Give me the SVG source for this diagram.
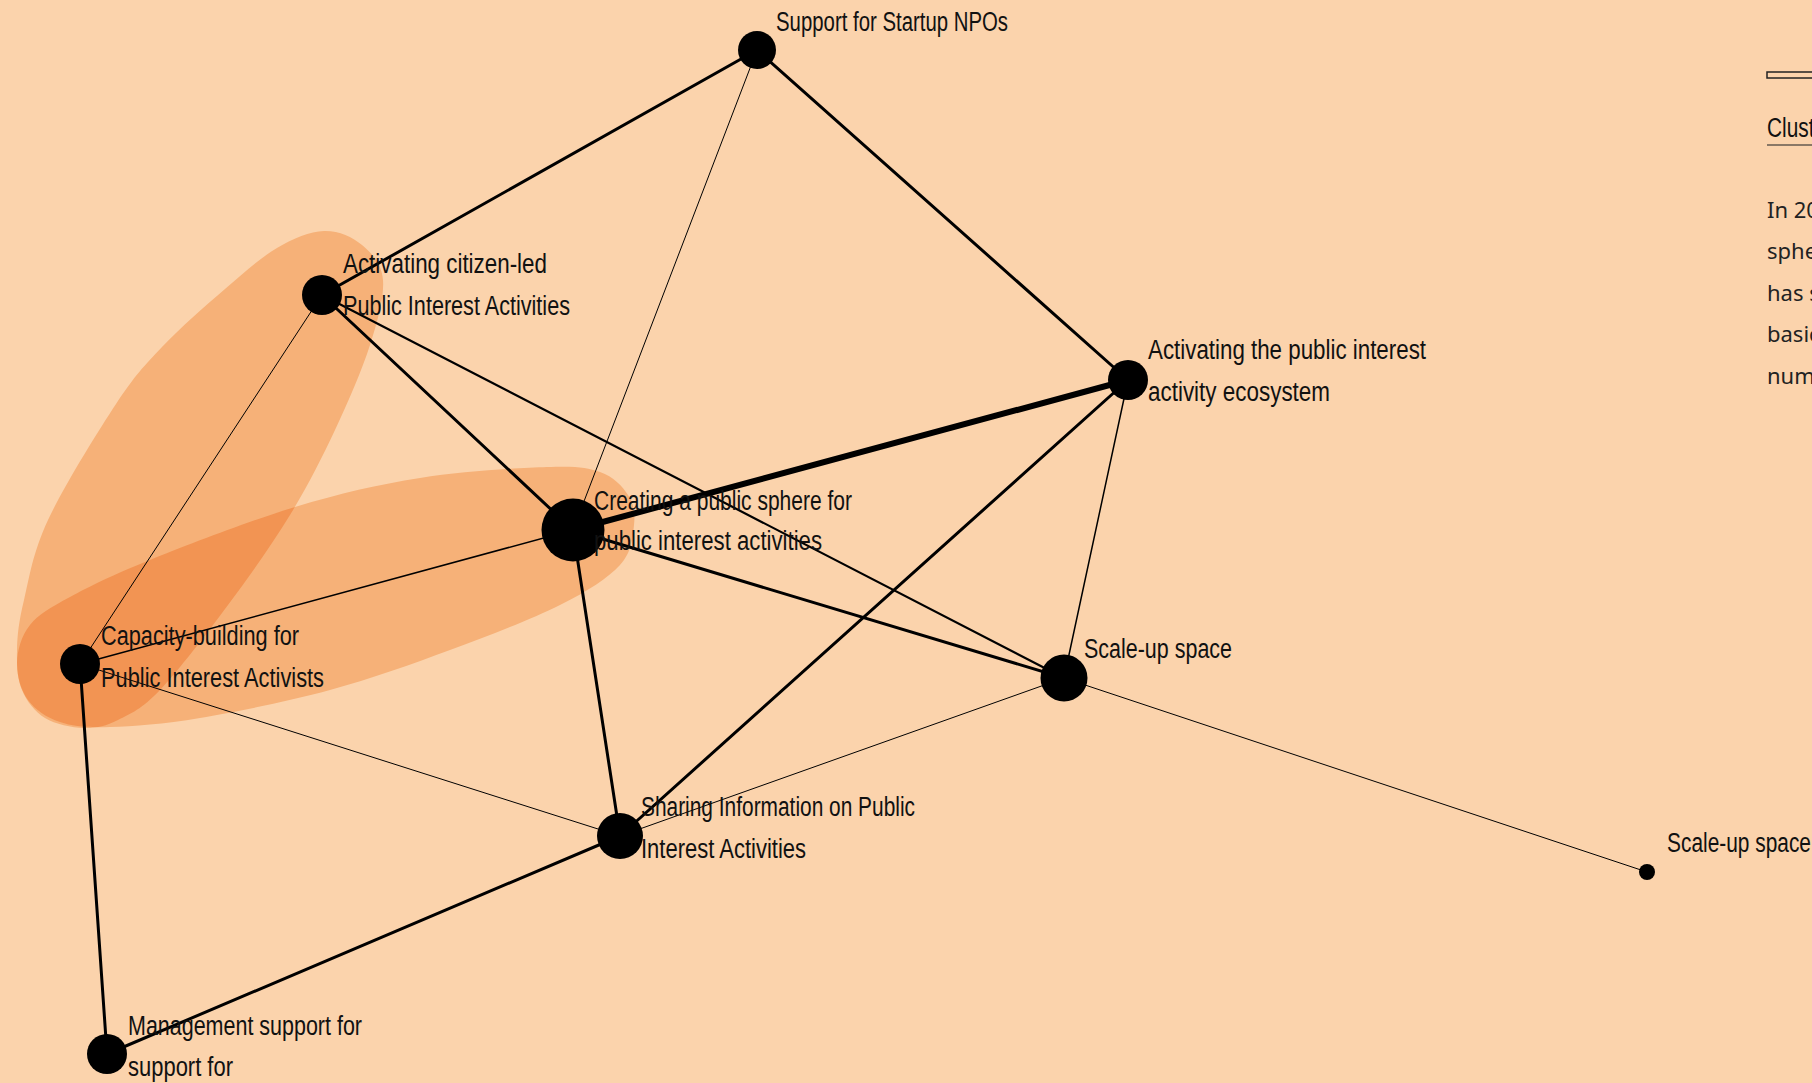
<svg xmlns="http://www.w3.org/2000/svg" width="1812" height="1083" viewBox="0 0 1812 1083">
  <defs>
    <style>
      .bg { fill: #FBD3AC; }
      .hull { fill: #F6B178; }
      .hull-overlap { fill: #F29453; }
      .edge { stroke: #000; fill: none; stroke-linecap: round; }
      .node circle { fill: #000; }
      .label { font-family: "Liberation Sans", "DejaVu Sans", sans-serif; font-size: 27px; fill: #111; }
      .panel-title { font-family: "Liberation Sans", sans-serif; font-size: 27px; fill: #111; }
      .panel-body { font-family: "Noto Sans", "Open Sans", sans-serif; font-size: 22px; fill: #222; }
    </style>
    <!-- cluster outline: citizen-led activities + capacity-building -->
    <path id="hullA" d="M324,231 C338.2,230.5 352.2,236.8 362,245 C371.8,253.2 381.7,263.3 383,280 C384.3,296.7 378,320 370,345 C362,370 348.3,401.7 335,430 C321.7,458.3 307.8,485.8 290,515 C272.2,544.2 249.7,575.8 228,605 C206.3,634.2 178.3,670.8 160,690 C141.7,709.2 130.7,713.7 118,720 C105.3,726.3 96.2,728.3 84,728 C71.8,727.7 55.3,724.3 45,718 C34.7,711.7 26.7,701.3 22,690 C17.3,678.7 16.7,665 17,650 C17.3,635 18.8,621.7 24,600 C29.2,578.3 32.7,552.7 48,520 C63.3,487.3 97,432.8 116,404 C135,375.2 143.8,366.2 162,347 C180.2,327.8 205.8,305.5 225,289 C244.2,272.5 260.5,257.7 277,248 C293.5,238.3 309.8,231.5 324,231 Z"/>
    <!-- cluster outline: capacity-building + public sphere -->
    <path id="hullB" d="M17,663 C17.3,650.5 21.2,636 30,625 C38.8,614 50,607.8 70,597 C90,586.2 112.5,575 150,560 C187.5,545 250,520.7 295,507 C340,493.3 378,484.7 420,478 C462,471.3 517,468 547,467 C577,466 586.5,467.3 600,472 C613.5,476.7 622.3,486.2 628,495 C633.7,503.8 635.3,513.3 634,525 C632.7,536.7 632.3,551.7 620,565 C607.7,578.3 588.3,590.8 560,605 C531.7,619.2 488.3,635.8 450,650 C411.7,664.2 371.7,678.7 330,690 C288.3,701.3 236.7,711.8 200,718 C163.3,724.2 133.3,726.3 110,727 C86.7,727.7 73.7,726.5 60,722 C46.3,717.5 35.2,709.8 28,700 C20.8,690.2 16.7,675.5 17,663 Z"/>
    <clipPath id="clipA"><use href="#hullA"/></clipPath>
  </defs>

  <rect class="bg" x="0" y="0" width="1812" height="1083"/>

  <!-- cluster hulls -->
  <g id="hulls">
    <use href="#hullA" class="hull"/>
    <use href="#hullB" class="hull"/>
    <use href="#hullB" class="hull-overlap" clip-path="url(#clipA)"/>
  </g>

  <!-- connectors -->
  <g id="edges">
    <line class="edge" x1="757" y1="50" x2="322" y2="295" stroke-width="3"/>
    <line class="edge" x1="757" y1="50" x2="573" y2="530" stroke-width="1"/>
    <line class="edge" x1="757" y1="50" x2="1128" y2="380" stroke-width="3"/>
    <line class="edge" x1="322" y1="295" x2="573" y2="530" stroke-width="3"/>
    <line class="edge" x1="322" y1="295" x2="80" y2="664" stroke-width="1"/>
    <line class="edge" x1="322" y1="295" x2="1064" y2="678" stroke-width="2.2"/>
    <line class="edge" x1="573" y1="530" x2="1128" y2="380" stroke-width="6"/>
    <line class="edge" x1="573" y1="530" x2="1064" y2="678" stroke-width="3"/>
    <line class="edge" x1="573" y1="530" x2="80" y2="664" stroke-width="1.5"/>
    <line class="edge" x1="573" y1="530" x2="620" y2="836" stroke-width="3"/>
    <line class="edge" x1="1128" y1="380" x2="620" y2="836" stroke-width="3"/>
    <line class="edge" x1="1128" y1="380" x2="1064" y2="678" stroke-width="1.5"/>
    <line class="edge" x1="1064" y1="678" x2="620" y2="836" stroke-width="1"/>
    <line class="edge" x1="1064" y1="678" x2="1647" y2="872" stroke-width="1"/>
    <line class="edge" x1="80" y1="664" x2="620" y2="836" stroke-width="1"/>
    <line class="edge" x1="80" y1="664" x2="107" y2="1054" stroke-width="3"/>
    <line class="edge" x1="107" y1="1054" x2="620" y2="836" stroke-width="3"/>
  </g>

  <!-- nodes -->
  <g id="node-startup-npos" class="node">
    <circle cx="757" cy="50" r="19"/>
    <text class="label" x="776" y="31" textLength="232" lengthAdjust="spacingAndGlyphs">Support for Startup NPOs</text>
  </g>
  <g id="node-citizen-led" class="node">
    <circle cx="322" cy="295" r="20"/>
    <text class="label" x="343" y="273" textLength="204" lengthAdjust="spacingAndGlyphs">Activating citizen-led</text>
    <text class="label" x="343" y="315" textLength="227" lengthAdjust="spacingAndGlyphs">Public Interest Activities</text>
  </g>
  <g id="node-public-sphere" class="node">
    <circle cx="573" cy="530" r="31.5"/>
    <text class="label" x="594" y="510" textLength="258" lengthAdjust="spacingAndGlyphs">Creating a public sphere for</text>
    <text class="label" x="594" y="550" textLength="228" lengthAdjust="spacingAndGlyphs">public interest activities</text>
  </g>
  <g id="node-ecosystem" class="node">
    <circle cx="1128" cy="380" r="20"/>
    <text class="label" x="1148" y="359" textLength="278" lengthAdjust="spacingAndGlyphs">Activating the public interest</text>
    <text class="label" x="1148" y="401" textLength="182" lengthAdjust="spacingAndGlyphs">activity ecosystem</text>
  </g>
  <g id="node-scale-up" class="node">
    <circle cx="1064" cy="678" r="23.5"/>
    <text class="label" x="1084" y="658" textLength="148" lengthAdjust="spacingAndGlyphs">Scale-up space</text>
  </g>
  <g id="node-capacity" class="node">
    <circle cx="80" cy="664" r="20"/>
    <text class="label" x="101" y="645" textLength="198" lengthAdjust="spacingAndGlyphs">Capacity-building for</text>
    <text class="label" x="101" y="687" textLength="223" lengthAdjust="spacingAndGlyphs">Public Interest Activists</text>
  </g>
  <g id="node-sharing" class="node">
    <circle cx="620" cy="836" r="23"/>
    <text class="label" x="641" y="816" textLength="274" lengthAdjust="spacingAndGlyphs">Sharing Information on Public</text>
    <text class="label" x="641" y="858" textLength="165" lengthAdjust="spacingAndGlyphs">Interest Activities</text>
  </g>
  <g id="node-management" class="node">
    <circle cx="107" cy="1054" r="20"/>
    <text class="label" x="128" y="1035" textLength="234" lengthAdjust="spacingAndGlyphs">Management support for</text>
    <text class="label" x="128" y="1076" textLength="105" lengthAdjust="spacingAndGlyphs">support for</text>
  </g>
  <g id="node-scale-up-2" class="node">
    <circle cx="1647" cy="872" r="8"/>
    <text class="label" x="1667" y="852" textLength="144" lengthAdjust="spacingAndGlyphs">Scale-up space</text>
  </g>

  <!-- side panel -->
  <g id="panel">
    <rect x="1767" y="72" width="60" height="6" fill="none" stroke="#222" stroke-width="1.5"/>
    <text class="panel-title" x="1767" y="137" textLength="66" lengthAdjust="spacingAndGlyphs">Cluster</text>
    <line x1="1767" y1="145" x2="1812" y2="145" stroke="#8A7866" stroke-width="2"/>
    <text class="panel-body" x="1767" y="218">In 20</text>
    <text class="panel-body" x="1767" y="259">sphe</text>
    <text class="panel-body" x="1767" y="301">has s</text>
    <text class="panel-body" x="1767" y="342">basic</text>
    <text class="panel-body" x="1767" y="384">num</text>
  </g>
</svg>
